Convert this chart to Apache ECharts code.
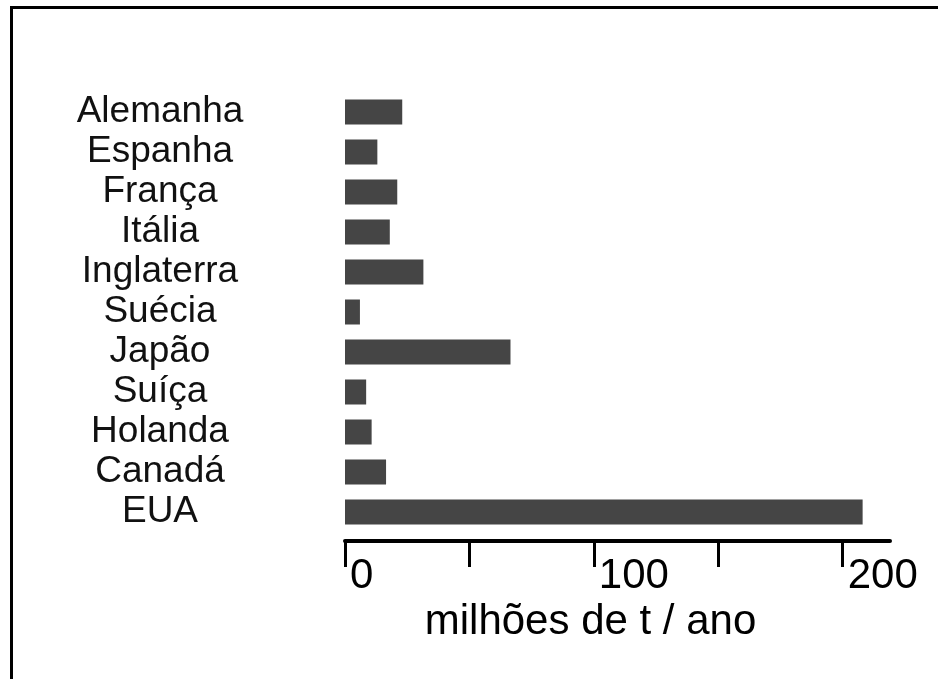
<!DOCTYPE html>
<html>
<head>
<meta charset="utf-8">
<script src="https://cdn.jsdelivr.net/npm/echarts@6/dist/echarts.min.js"></script>
<style>
  html, body { margin: 0; padding: 0; background: #ffffff; }
  #frame { position: absolute; left: 0; top: 0; width: 938px; height: 679px; }
  #border { position: absolute; left: 10px; top: 6px; right: 0; bottom: 0;
            border-top: 3px solid #000; border-left: 3px solid #000; pointer-events: none; }
  #chart { position: absolute; left: 0; top: 0; width: 938px; height: 679px; }
</style>
</head>
<body>
<div id="frame">
  <div id="chart"></div>
  <div id="border"></div>
</div>
<script>
const categories = ['Alemanha', 'Espanha', 'França', 'Itália', 'Inglaterra', 'Suécia', 'Japão', 'Suíça', 'Holanda', 'Canadá', 'EUA'];
const values = [23, 13, 21, 18, 31.5, 6, 66.5, 8.5, 10.7, 16.5, 208];
const tickValues = [0, 50, 100, 150, 200];
const tickLabels = [0, 100, 200];
const axisTitle = 'milhões de t / ano';

const chart = echarts.init(document.getElementById('chart'), null, { renderer: 'canvas' });
chart.setOption({
  animation: false,
  backgroundColor: 'transparent',
  grid: { left: 345, right: 48, top: 92, bottom: 147, containLabel: false },
  xAxis: {
    type: 'value',
    min: 0,
    max: 219,
    offset: 9,
    axisLine: { show: true, lineStyle: { color: '#000', width: 4 } },
    axisTick: { show: true, customValues: tickValues, length: 26, lineStyle: { color: '#000', width: 3 } },
    axisLabel: {
      show: true,
      customValues: tickLabels,
      align: 'left',
      margin: 14,
      padding: [0, 0, 0, 5],
      fontFamily: 'Liberation Sans, Arial, sans-serif',
      fontSize: 42,
      lineHeight: 42,
      color: '#000'
    },
    splitLine: { show: false },
    name: axisTitle,
    nameLocation: 'middle',
    nameGap: 60,
    nameTextStyle: {
      fontFamily: 'Liberation Sans, Arial, sans-serif',
      fontSize: 42,
      color: '#000',
      padding: [0, 54, 0, 0]
    }
  },
  yAxis: {
    type: 'category',
    data: categories,
    inverse: true,
    axisLine: { show: false },
    axisTick: { show: false },
    axisLabel: {
      interval: 0,
      margin: 185,
      align: 'center',
      fontFamily: 'Liberation Sans, Arial, sans-serif',
      fontSize: 37,
      color: '#111'
    }
  },
  series: [{
    type: 'bar',
    data: values,
    barWidth: 25,
    itemStyle: { color: '#454545' }
  }]
});
</script>
</body>
</html>
